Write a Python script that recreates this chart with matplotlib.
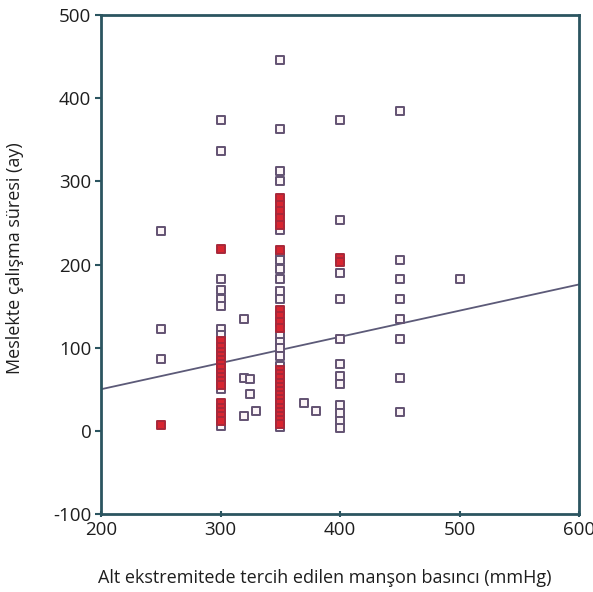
import matplotlib
matplotlib.use("Agg")
import matplotlib.pyplot as plt
import numpy as np

# ---- data ----
pressure_250 = [250, 250, 250, 250]
months_250 = [240, 122, 86, 7]
count_250 = [1, 1, 1, 2]

pressure_300 = [300] * 27
months_300 = [374, 337, 219, 183, 169, 158, 150, 122, 115, 108, 101, 95, 90, 85,
              80, 75, 70, 65, 60, 55, 50, 33, 28, 23, 18, 12, 6]
count_300 = [1, 1, 2, 1, 1, 1, 1, 1, 1, 2, 2, 2, 2, 2,
             2, 2, 2, 2, 2, 2, 1, 2, 2, 2, 2, 2, 1]

pressure_mid = [320, 320, 325, 325, 320, 330, 370, 380]
months_mid = [134, 64, 62, 44, 18, 24, 33, 24]
count_mid = [1, 1, 1, 1, 1, 1, 1, 1]

pressure_350 = [350] * 41
months_350 = [446, 363, 313, 301, 280, 272, 264, 256, 248, 241, 218, 211, 205, 194,
              182, 168, 158, 145, 138, 131, 124, 115, 107, 100, 90, 78, 73, 68,
              63, 58, 53, 48, 43, 38, 33, 28, 23, 18, 13, 8, 5]
count_350 = [1, 1, 1, 1, 2, 2, 2, 2, 2, 1, 2, 1, 1, 1,
             1, 1, 1, 2, 2, 2, 2, 1, 1, 1, 1, 1, 2, 2,
             2, 2, 2, 2, 2, 2, 2, 2, 2, 2, 2, 2, 1]

pressure_400 = [400] * 14
months_400 = [374, 254, 208, 203, 190, 158, 111, 80, 66, 56, 31, 22, 12, 4]
count_400 = [1, 1, 2, 2, 1, 1, 1, 1, 1, 1, 1, 1, 1, 1]

pressure_450 = [450] * 8
months_450 = [385, 205, 182, 158, 134, 110, 64, 23]
count_450 = [1, 1, 1, 1, 1, 1, 1, 1]

pressure_500 = [500]
months_500 = [182]
count_500 = [1]

fit_intercept = -13.0
fit_slope = 0.315

x_ticks = [200, 300, 400, 500, 600]
y_ticks = [-100, 0, 100, 200, 300, 400, 500]
x_label = "Alt ekstremitede tercih edilen manşon basıncı (mmHg)"
y_label = "Meslekte çalışma süresi (ay)"

# ---- assemble ----
x = np.array(pressure_250 + pressure_300 + pressure_mid + pressure_350 +
             pressure_400 + pressure_450 + pressure_500, dtype=float)
y = np.array(months_250 + months_300 + months_mid + months_350 +
             months_400 + months_450 + months_500, dtype=float)
n = np.array(count_250 + count_300 + count_mid + count_350 +
             count_400 + count_450 + count_500)

plt.rcParams['font.family'] = ['Open Sans', 'DejaVu Sans']
plt.rcParams['axes.unicode_minus'] = False

fig = plt.figure(figsize=(5.93, 5.92), dpi=100)
ax = fig.add_axes([101/593, 1-514/592, (579-101)/593, (514-15)/592])

spine_col = '#2b5560'
edge_col = '#625272'
red_col = '#d82530'
text_col = '#1e1e1e'

xs = np.array([200, 600])
ax.plot(xs, fit_intercept + fit_slope * xs, color='#5c5a78', lw=1.3, zorder=2)

single = n == 1
ax.scatter(x[single], y[single], marker='s', s=30, facecolors='#fbf4f6',
           edgecolors=edge_col, linewidths=1.4, zorder=3)
ax.scatter(x[~single], y[~single], marker='s', s=30, facecolors=red_col,
           edgecolors='#a8283a', linewidths=1.4, zorder=3)

ax.set_xlim(200, 600)
ax.set_ylim(-100, 500)
ax.set_xticks(x_ticks)
ax.set_yticks(y_ticks)
for s in ax.spines.values():
    s.set_color(spine_col)
    s.set_linewidth(2)
ax.tick_params(axis='y', direction='out', length=4, width=1.5, color=spine_col,
               labelsize=13.5, labelcolor=text_col, pad=3)
ax.tick_params(axis='x', direction='inout', length=4, width=1.5, color=spine_col,
               labelsize=13.5, labelcolor=text_col, pad=3)

fig.text(325/593, 1-578/592, x_label, ha='center', va='center', fontsize=13,
         color=text_col)
fig.text(15/593, 1-258/592, y_label, ha='center', va='center', rotation=90,
         fontsize=13, color=text_col)

fig.savefig('out.png', dpi=100)
